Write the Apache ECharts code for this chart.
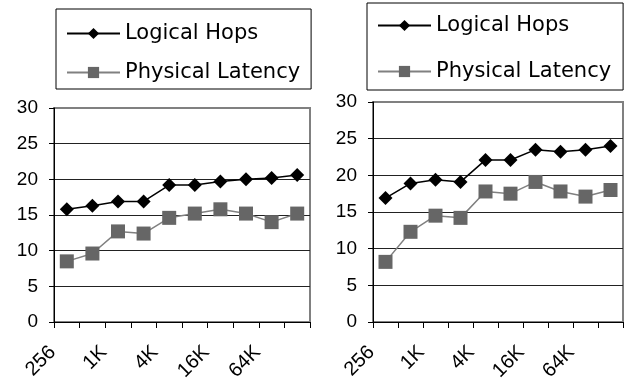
<!DOCTYPE html>
<html><head><meta charset="utf-8">
<script src="https://cdn.jsdelivr.net/npm/echarts@6/dist/echarts.min.js"></script>
<style>html,body{margin:0;padding:0;background:#fff}#c{width:636px;height:388px}</style>
</head><body><div id="c"></div>
<script>
var categories = ['256','512','1K','2K','4K','8K','16K','32K','64K','128K'];
var leftLogicalHops = [15.8, 16.3, 16.9, 16.9, 19.2, 19.2, 19.7, 20.0, 20.2, 20.6];
var leftPhysicalLatency = [8.5, 9.6, 12.7, 12.4, 14.6, 15.2, 15.8, 15.2, 14.0, 15.2];
var rightLogicalHops = [16.9, 18.9, 19.4, 19.1, 22.1, 22.1, 23.5, 23.2, 23.5, 24.0];
var rightPhysicalLatency = [8.2, 12.3, 14.5, 14.2, 17.8, 17.5, 19.1, 17.8, 17.1, 18.0];
var yTicks = {min: 0, max: 30, interval: 5};

var FONT = 'Liberation Sans';
var LEGEND_FONT = 'DejaVu Sans';
var chart = echarts.init(document.getElementById('c'), null, {renderer: 'canvas'});

function xAxis(gi) {
  return {
    type: 'category', gridIndex: gi, data: categories, boundaryGap: true,
    axisLine: {show: true, lineStyle: {color: '#000', width: 1}},
    axisTick: {show: true, alignWithLabel: false, interval: 0, length: 6, lineStyle: {color: '#000'}},
    axisLabel: {interval: 1, rotate: 45, color: '#000', margin: 13, hideOverlap: false,
      formatter: function (v) { return '{t|' + v + '}{s| }'; },
      rich: {
        t: {fontFamily: FONT, fontSize: 20, color: '#000'},
        s: {fontFamily: FONT, fontSize: 20, width: 20}
      }},
    splitLine: {show: false}
  };
}
function yAxis(gi) {
  return {
    type: 'value', gridIndex: gi, min: yTicks.min, max: yTicks.max, interval: yTicks.interval,
    axisLine: {show: true, lineStyle: {color: '#000', width: 1}},
    axisTick: {show: true, length: 5, lineStyle: {color: '#000'}},
    axisLabel: {fontFamily: FONT, fontSize: 19, color: '#000', margin: 16},
    splitLine: {show: true, showMinLine: false, showMaxLine: false, lineStyle: {color: '#222', width: 1}}
  };
}
function lineSeries(name, data, gi, black) {
  return {
    name: name, type: 'line', xAxisIndex: gi, yAxisIndex: gi, data: data,
    symbol: black ? 'diamond' : 'rect', symbolSize: 14, showSymbol: true,
    lineStyle: {color: black ? '#000' : '#808080', width: 1.5},
    itemStyle: {color: black ? '#000' : '#666666'},
    animation: false
  };
}
var legendBase = {
  orient: 'vertical', itemWidth: 53, itemHeight: 14, borderColor: '#000', borderWidth: 1,
  textStyle: {fontFamily: LEGEND_FONT, fontSize: 21, color: '#000'}, selectedMode: false
};
chart.setOption({
  animation: false,
  backgroundColor: '#fff',
  grid: [
    {left: 54, top: 108, width: 256, height: 214, show: true, borderColor: '#808080', borderWidth: 2, backgroundColor: 'transparent'},
    {left: 373, top: 102, width: 250, height: 220, show: true, borderColor: '#808080', borderWidth: 2, backgroundColor: 'transparent'}
  ],
  legend: [
    Object.assign({}, legendBase, {left: 56, top: 9, padding: [14, 11, 6, 10], itemGap: 18,
      data: ['Logical Hops', 'Physical Latency']}),
    Object.assign({}, legendBase, {left: 367, top: 3, padding: [12, 12, 8, 10], itemGap: 25,
      data: ['Logical Hops', 'Physical Latency']})
  ],
  xAxis: [xAxis(0), xAxis(1)],
  yAxis: [yAxis(0), yAxis(1)],
  series: [
    lineSeries('Logical Hops', leftLogicalHops, 0, true),
    lineSeries('Physical Latency', leftPhysicalLatency, 0, false),
    lineSeries('Logical Hops', rightLogicalHops, 1, true),
    lineSeries('Physical Latency', rightPhysicalLatency, 1, false)
  ]
});
</script></body></html>
